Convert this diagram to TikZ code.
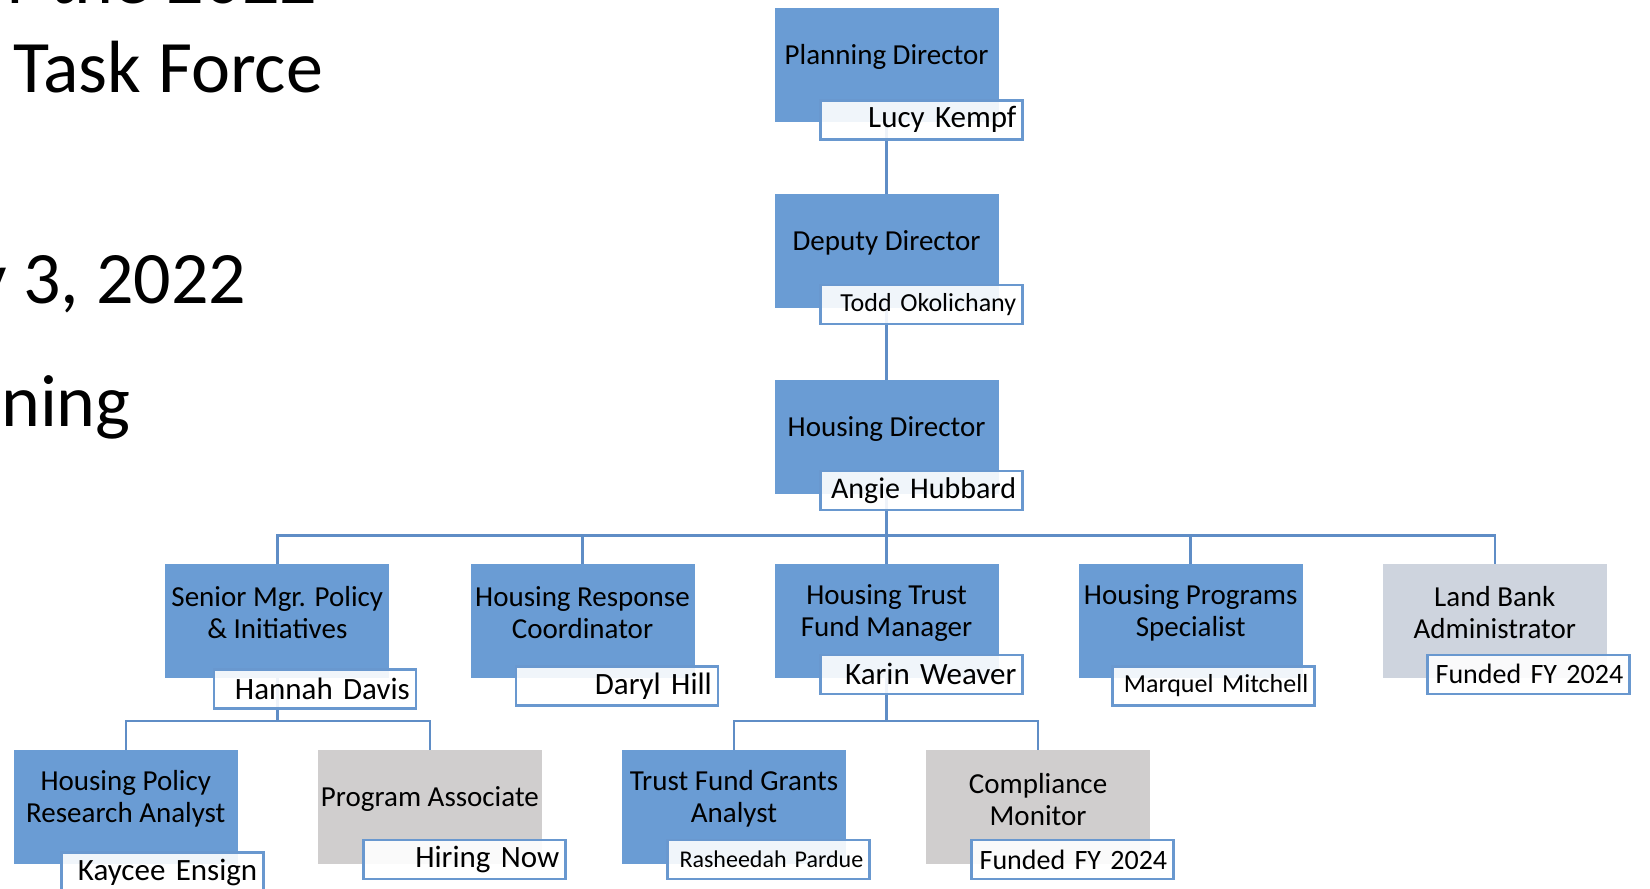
\documentclass[tikz,border=0pt]{standalone}
\usepackage{fontspec}
\setmainfont{Carlito}
\usetikzlibrary{backgrounds}
\definecolor{boxblue}{RGB}{106,156,212}
\definecolor{boxgray}{RGB}{208,206,206}
\definecolor{boxgrayblue}{RGB}{206,212,222}
\definecolor{nameborder}{RGB}{105,152,207}
\definecolor{lineblue}{RGB}{95,141,198}
\tikzset{
  posbox/.style={minimum width=224pt, minimum height=114pt, inner sep=0pt, draw=none},
  bluepos/.style={posbox, fill=boxblue},
  graypos/.style={posbox, fill=boxgray},
  landpos/.style={posbox, fill=boxgrayblue},
  ttl/.style={align=center, font=\fontsize{29}{32}\selectfont, inner sep=0pt, yshift=8pt},
  namebox/.style={anchor=north west, draw=nameborder, line width=2.5pt, fill=white, fill opacity=0.9, text opacity=1,
     minimum height=39pt, text width=190pt, align=right, inner xsep=6pt, inner ysep=0pt,
     font=\fontsize{31}{36}\selectfont},
  smallname/.style={font=\fontsize{26}{30}\selectfont},
  tinyname/.style={font=\fontsize{24}{28}\selectfont},
  fundname/.style={font=\fontsize{28}{32}\selectfont},
  conn/.style={draw=lineblue, line width=2.5pt},
  bigtxt/.style={anchor=base west, inner sep=0pt, font=\fontsize{74}{80}\selectfont}
}
\begin{document}
\begin{tikzpicture}[x=1pt,y=-1pt]
\useasboundingbox (0,0) rectangle (1650,889);

% left title text (partly cut off by the page edge)
\node[bigtxt] (t0) at (7,3) {r the 2022};
\node[bigtxt] (t1) at (13,92.6) {Task Force};
\node[bigtxt] (t2) at (-27,303) {y 3, 2022};
\node[bigtxt] (t3) at (1,426) {ning};

% main boxes
\node[bluepos] (pd) at (886.6,65.2) {};
\node[bluepos] (dd) at (886.6,250.5) {};
\node[bluepos] (hd) at (886.6,436.8) {};
\node[bluepos] (sm) at (277.3,620.9) {};
\node[bluepos] (hr) at (582.5,620.9) {};
\node[bluepos] (ht) at (886.6,620.9) {};
\node[bluepos] (hp) at (1190.7,620.9) {};
\node[landpos] (lb) at (1494.8,620.9) {};
\node[bluepos] (hpr) at (125.8,807.2) {};
\node[graypos] (pa) at (429.9,807.2) {};
\node[bluepos] (tf) at (734,807.2) {};
\node[graypos] (cm) at (1038.1,807.2) {};

% titles
\node[ttl] (pd-t) at (pd.center) {Planning Director};
\node[ttl] (dd-t) at (dd.center) {Deputy Director};
\node[ttl] (hd-t) at (hd.center) {Housing Director};
\node[ttl] (sm-t) at (sm.center) {Senior Mgr. Policy\\\& Initiatives};
\node[ttl] (hr-t) at (hr.center) {Housing Response\\Coordinator};
\node[ttl] (ht-t) at (ht.center) {Housing Trust\\Fund Manager};
\node[ttl] (hp-t) at (hp.center) {Housing Programs\\Specialist};
\node[ttl] (lb-t) at (lb.center) {Land Bank\\Administrator};
\node[ttl] (hpr-t) at (hpr.center) {Housing Policy\\Research Analyst};
\node[ttl] (pa-t) at (pa.center) {Program Associate};
\node[ttl] (tf-t) at (tf.center) {Trust Fund Grants\\Analyst};
\node[ttl] (cm-t) at (cm.center) {Compliance\\Monitor};

% name boxes
\node[namebox] (pd-n) at (819,99) {\mbox{Lucy Kempf}};
\node[namebox, smallname] (dd-n) at (819,283.5) {\mbox{Todd Okolichany}};
\node[namebox, font=\fontsize{30}{34}\selectfont] (hd-n) at (819,469.5) {\mbox{Angie Hubbard}};
\node[namebox] (sm-n) at (212.6,668.2) {\mbox{Hannah Davis}};
\node[namebox] (hr-n) at (514.6,665) {\mbox{Daryl Hill}};
\node[namebox] (ht-n) at (819,653.5) {\mbox{Karin Weaver}};
\node[namebox, smallname] (hp-n) at (1111,665) {\mbox{Marquel Mitchell}};
\node[namebox, fundname] (lb-n) at (1426,653.5) {\mbox{Funded FY 2024}};
\node[namebox] (hpr-n) at (60,851.3) {\mbox{Kaycee Ensign}};
\node[namebox] (pa-n) at (362,838.7) {\mbox{Hiring Now}};
\node[namebox, tinyname] (tf-n) at (666,838.7) {\mbox{Rasheedah Pardue}};
\node[namebox, fundname] (cm-n) at (970,838.7) {\mbox{Funded FY 2024}};

% connectors
\begin{scope}[on background layer]
\fill[white] (0,0) rectangle (1650,889);
\coordinate (bus1) at (886.6,535.6);
\coordinate (bus2) at (277.3,720.8);
\coordinate (bus3) at (886.6,720.8);
\draw[conn] (pd.center) -- (dd.center);
\draw[conn] (dd.center) -- (hd.center);
\foreach \c in {sm,hr,ht,hp,lb} {\draw[conn] (hd.center) |- (bus1) -| (\c.center);}
\foreach \c in {hpr,pa} {\draw[conn] (sm.center) |- (bus2) -| (\c.center);}
\foreach \c in {tf,cm} {\draw[conn] (ht.center) |- (bus3) -| (\c.center);}
\end{scope}
\end{tikzpicture}
\end{document}
